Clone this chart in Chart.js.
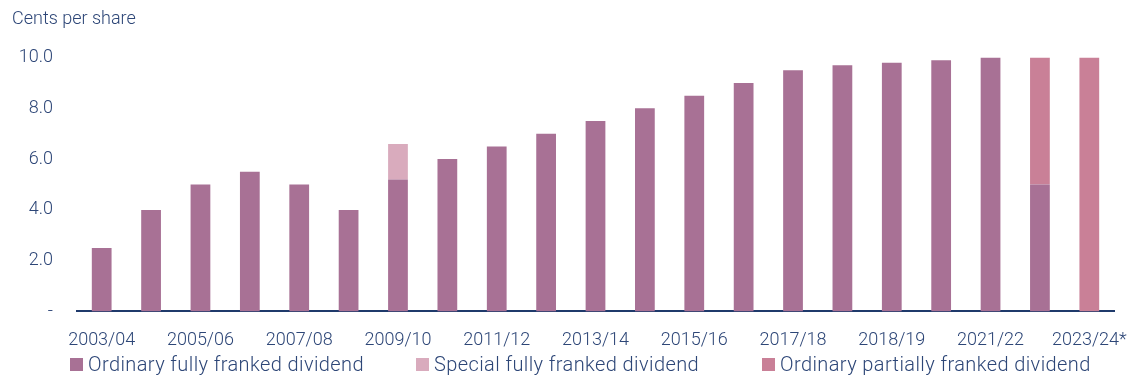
<!DOCTYPE html>
<html>
<head>
<meta charset="utf-8">
<script src="https://cdn.jsdelivr.net/npm/chart.js@4.4.0/dist/chart.umd.min.js"></script>
<style>
  html, body { margin: 0; padding: 0; background: #fff; }
  #wrap { position: relative; width: 1127px; height: 376px; }
  #legend {
    position: absolute; left: 70px; top: 352px; height: 24px;
    display: flex; align-items: center;
    font-family: Roboto, sans-serif; font-weight: 300; font-size: 20px;
    letter-spacing: 0.4px; color: #2d4677; white-space: nowrap;
  }
  #legend .item { display: flex; align-items: center; flex-shrink: 0; }
  #legend .box { width: 13px; height: 13px; margin-right: 5px; flex-shrink: 0; }
</style>
</head>
<body>
<div id="wrap">
  <canvas id="dividendChart"></canvas>
  <div id="legend"></div>
</div>
<script>
/* Dividend history, cents per share */
const years = ["2003/04", "2004/05", "2005/06", "2006/07", "2007/08", "2008/09", "2009/10",
  "2010/11", "2011/12", "2012/13", "2013/14", "2014/15", "2015/16", "2016/17", "2017/18",
  "2018", "2018/19", "2019/20", "2021/22", "2022/23", "2023/24*"];
const ordinaryFull = [2.5, 4.0, 5.0, 5.5, 5.0, 4.0, 5.2, 6.0, 6.5, 7.0, 7.5, 8.0, 8.5, 9.0, 9.5,
  9.7, 9.8, 9.9, 10.0, 5.0, 0];
const specialFull = [0, 0, 0, 0, 0, 0, 1.4, 0, 0, 0, 0, 0, 0, 0, 0, 0, 0, 0, 0, 0, 0];
const ordinaryPartial = [0, 0, 0, 0, 0, 0, 0, 0, 0, 0, 0, 0, 0, 0, 0, 0, 0, 0, 0, 5.0, 10.0];
const yTicks = [0, 2, 4, 6, 8, 10];

const navy = "#2d4677";
const baseFont = { family: "Roboto", weight: "300", size: 18 };

const ctx = document.getElementById("dividendChart");
const chart = new Chart(ctx, {
  type: "bar",
  data: {
    labels: years,
    datasets: [
      { label: "Ordinary fully franked dividend", data: ordinaryFull, backgroundColor: "#a87195" },
      { label: "Special fully franked dividend", data: specialFull, backgroundColor: "#d9abbd" },
      { label: "Ordinary partially franked dividend", data: ordinaryPartial, backgroundColor: "#c98097" }
    ]
  },
  options: {
    responsive: true,
    maintainAspectRatio: false,
    animation: false,
    layout: { padding: { left: 12, right: 0, top: 0, bottom: 7 } },
    datasets: { bar: { categoryPercentage: 1.0, barPercentage: 0.4 } },
    plugins: {
      title: {
        display: true,
        text: "Cents per share",
        align: "start",
        color: navy,
        font: baseFont,
        padding: { top: 9, bottom: 27 }
      },
      legend: { display: false },
      tooltip: { enabled: false }
    },
    scales: {
      x: {
        stacked: true,
        grid: { display: false, drawTicks: false },
        border: { display: true, color: "#1f3a6b", width: 2 },
        // keep the last label tight to the right edge
        afterFit: function (axis) { axis.paddingLeft = 0; axis.paddingRight = 13; },
        ticks: {
          color: navy,
          font: baseFont,
          autoSkip: false,
          maxRotation: 0,
          padding: 18,
          callback: function (val, i) { return i % 2 === 0 ? years[i] : ""; }
        }
      },
      y: {
        stacked: true,
        min: 0,
        max: 10,
        grid: { display: false, drawTicks: false },
        border: { display: false },
        afterBuildTicks: function (axis) { axis.ticks = yTicks.map(v => ({ value: v })); },
        afterFit: function (axis) { axis.width = 65; },
        ticks: {
          color: navy,
          font: baseFont,
          padding: 24,
          callback: function (v) { return v === 0 ? "-" : v.toFixed(1); }
        }
      }
    }
  }
});

// legend built from the datasets, laid out under the axis
const legendEl = document.getElementById("legend");
const itemWidths = [346, 346, null];
chart.data.datasets.forEach((ds, i) => {
  const item = document.createElement("div");
  item.className = "item";
  if (itemWidths[i]) item.style.width = itemWidths[i] + "px";
  const box = document.createElement("span");
  box.className = "box";
  box.style.background = ds.backgroundColor;
  const txt = document.createElement("span");
  txt.textContent = ds.label;
  item.appendChild(box);
  item.appendChild(txt);
  legendEl.appendChild(item);
});
</script>
</body>
</html>
